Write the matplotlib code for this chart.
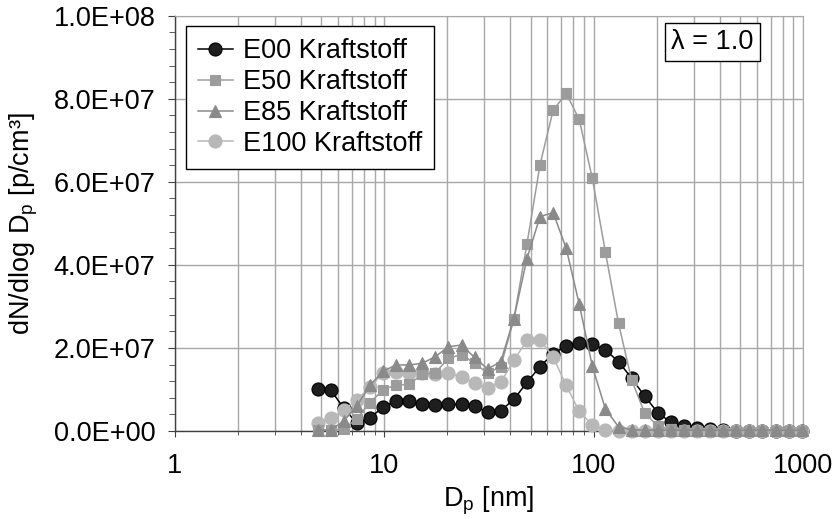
"""Particle size distribution (SMPS) for ethanol fuel blends at lambda = 1.0."""
import matplotlib
matplotlib.use("Agg")
import matplotlib.pyplot as plt
import numpy as np
from matplotlib.ticker import FuncFormatter, MultipleLocator, LogLocator, NullFormatter

plt.rcParams["font.family"] = ["Liberation Sans", "DejaVu Sans"]
plt.rcParams["mathtext.fontset"] = "custom"
plt.rcParams["mathtext.rm"] = "Liberation Sans"

# ── data ──
# mobility diameter of the SMPS channels [nm]
dp = [4.80, 5.54, 6.40, 7.39, 8.54, 9.86, 11.39, 13.15, 15.19, 17.53,
      20.25, 23.38, 27.00, 31.18, 36.00, 41.57, 48.01, 55.44, 64.02, 73.93,
      85.37, 98.58, 113.8, 131.5, 151.8, 175.3, 202.5, 233.8, 270.0, 311.8,
      360.0, 415.7, 480.1, 554.4, 640.2, 739.3, 853.7, 985.8]

# dN/dlog Dp in units of 1e6 p/cm3
e00 = [10.0, 9.9, 5.5, 1.9, 3.2, 5.7, 7.3, 7.2, 6.5, 6.2,
       6.4, 6.4, 5.9, 4.6, 4.9, 7.6, 11.7, 15.5, 18.6, 20.5,
       21.2, 21.0, 19.5, 16.7, 12.7, 8.4, 4.4, 2.1, 1.1, 0.8,
       0.4, 0.2, 0.1, 0.1, 0.05, 0.05, 0.05, 0.05]
e50 = [0.3, 0.3, 0.4, 3.0, 6.8, 9.9, 11.1, 11.2, 13.7, 14.0,
       17.5, 18.4, 16.3, 13.9, 15.5, 26.9, 45.0, 64.1, 77.2, 81.3,
       75.0, 60.8, 43.1, 25.9, 12.3, 4.3, 1.2, 0.4, 0.2, 0.1,
       0.1, 0.1, 0.1, 0.1, 0.1, 0.1, 0.1, 0.1]
e85 = [0.2, 0.2, 2.4, 6.0, 11.0, 14.4, 15.9, 15.9, 16.3, 17.9,
       20.3, 20.7, 17.7, 14.9, 16.7, 27.0, 41.5, 51.6, 52.6, 44.0,
       30.5, 15.6, 5.3, 1.0, 0.3, 0.2, 0.2, 0.2, 0.2, 0.2,
       0.2, 0.2, 0.2, 0.2, 0.2, 0.2, 0.2, 0.2]
e100 = [2.0, 3.2, 5.0, 7.5, 10.5, 14.0, 14.3, 14.0, 14.0, 13.8,
        13.9, 13.0, 11.6, 10.3, 11.7, 17.0, 21.8, 22.0, 17.8, 11.0,
        4.7, 1.4, 0.3, 0.1, 0.1, 0.1, 0.1, 0.1, 0.1, 0.1,
        0.1, 0.1, 0.1, 0.1, 0.1, 0.1, 0.1, 0.1]

labels = ["E00 Kraftstoff", "E50 Kraftstoff", "E85 Kraftstoff", "E100 Kraftstoff"]
SCALE = 1e6

# (values, marker, face colour, line colour, marker size, zorder)
styles = [
    (e00, "o", "#1e1e1e", "#000000", 9.4, 3),
    (e50, "s", "#9c9c9c", "#9c9c9c", 7.6, 5),
    (e85, "^", "#8a8a8a", "#8a8a8a", 9.0, 6),
    (e100, "o", "#b8b8b8", "#b8b8b8", 9.4, 4),
]

FS = 19.5

fig = plt.figure(figsize=(8.32, 5.19), dpi=100)
ax = fig.add_axes([0.2103, 0.1696, 0.7548, 0.8002])

for (vals, mk, fc, lc, ms, z), lab in zip(styles, labels):
    ax.plot(dp, np.array(vals) * SCALE, color=lc, lw=1.1, marker=mk, ms=ms,
            mfc=fc, mec=lc, mew=0.8, label=lab, zorder=z, clip_on=False)

# ── axes ──
ax.set_xscale("log")
ax.set_xlim(1, 1000)
ax.set_ylim(0, 1e8)

ax.xaxis.set_major_locator(LogLocator(base=10, numticks=10))
ax.xaxis.set_minor_locator(LogLocator(base=10, subs=np.arange(2, 10), numticks=10))
ax.xaxis.set_minor_formatter(NullFormatter())
ax.xaxis.set_major_formatter(FuncFormatter(lambda v, _: f"{v:g}"))

ax.yaxis.set_major_locator(MultipleLocator(2e7))
ax.yaxis.set_minor_locator(MultipleLocator(4e6))
ax.yaxis.set_major_formatter(FuncFormatter(lambda v, _: f"{v:.1E}"))

ax.grid(True, which="both", axis="x", color="#a8a8a8", lw=1.0)
ax.grid(True, which="major", axis="y", color="#a8a8a8", lw=1.0)
ax.set_axisbelow(True)

for side in ("top", "right"):
    ax.spines[side].set_color("#a8a8a8")
for side in ("left", "bottom"):
    ax.spines[side].set_color("#404040")
    ax.spines[side].set_linewidth(1.0)

ax.tick_params(axis="both", which="both", direction="out", colors="#404040",
               labelcolor="black", labelsize=FS)
ax.tick_params(axis="y", which="major", length=5, pad=9)
ax.tick_params(axis="y", which="minor", length=4)
ax.tick_params(axis="x", which="major", length=4, pad=12)
ax.tick_params(axis="x", which="minor", length=3)

ax.set_xlabel(r"D$_\mathregular{p}$ [nm]", fontsize=FS, labelpad=4)
ax.set_ylabel(r"dN/dlog D$_\mathregular{p}$ [p/cm³]", fontsize=FS, labelpad=10)

leg = ax.legend(loc="upper left", bbox_to_anchor=(0.017, 0.975), borderaxespad=0,
                fontsize=FS, frameon=True, fancybox=False, framealpha=1,
                edgecolor="black", handlelength=1.3, handletextpad=0.35,
                labelspacing=0.18, borderpad=0.45)
leg.get_frame().set_linewidth(1.0)

ax.text(0.856, 0.937, "λ = 1.0", transform=ax.transAxes, fontsize=FS,
        ha="center", va="center",
        bbox=dict(boxstyle="square,pad=0.22", fc="white", ec="black", lw=1.0))

fig.savefig("out.png", dpi=100)
